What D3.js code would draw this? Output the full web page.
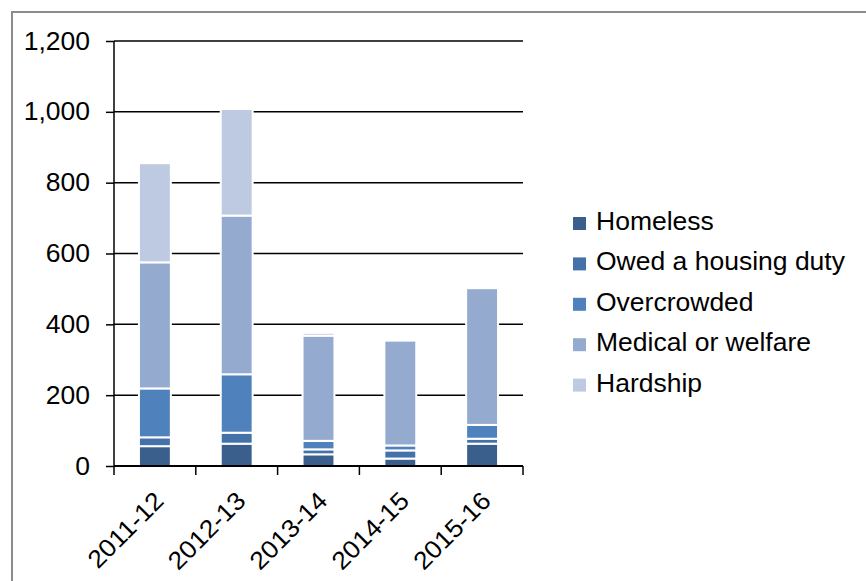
<!DOCTYPE html>
<html>
<head>
<meta charset="utf-8">
<script src="https://cdn.jsdelivr.net/npm/d3@7"></script>
<style>
  html, body { margin: 0; padding: 0; background: #fff; }
  svg { display: block; font-family: "Liberation Sans", Arial, sans-serif; }
</style>
</head>
<body>
<svg id="chart" width="866" height="581"></svg>
<script>
// Years and reason-for-priority series (stacked bottom to top)
const years = ["2011-12", "2012-13", "2013-14", "2014-15", "2015-16"];
const seriesNames = ["Homeless", "Owed a housing duty", "Overcrowded", "Medical or welfare", "Hardship"];
const homeless    = [56, 63, 33, 21, 63];
const owedDuty    = [25, 31, 14, 23, 14];
const overcrowded = [138, 165, 24, 14, 39];
const medical     = [356, 448, 297, 296, 386];
const hardship    = [280, 301, 8, 0, 0];
const yTicks = [0, 200, 400, 600, 800, 1000, 1200];
const colors = ["#3b5f8d", "#4571aa", "#4f81bd", "#94aacf", "#bdcae2"];

const seriesValues = [homeless, owedDuty, overcrowded, medical, hardship];
const rows = years.map((y, i) => {
  const r = { year: y };
  seriesNames.forEach((s, j) => { r[s] = seriesValues[j][i]; });
  return r;
});

const svg = d3.select("#chart");
const plot = { left: 114, right: 523, top: 41, bottom: 466 };

// slightly wide lettering
function widen(sel) {
  sel.each(function () {
    const w = this.getComputedTextLength();
    d3.select(this).attr("textLength", w * 1.06).attr("lengthAdjust", "spacingAndGlyphs");
  });
}

// outer frame
svg.append("path")
  .attr("d", `M12,${581 + 5} L12,12 L${866 + 5},12`)
  .attr("fill", "none")
  .attr("stroke", "#8c8c8c")
  .attr("stroke-width", 2);

const x = d3.scaleBand().domain(years).range([plot.left, plot.right]).paddingInner(0.61).paddingOuter(0.305);
const y = d3.scaleLinear().domain([0, 1200]).range([plot.bottom, plot.top]);

// horizontal gridlines
svg.append("g")
  .selectAll("line")
  .data(yTicks.filter(t => t > 0))
  .join("line")
  .attr("x1", plot.left).attr("x2", plot.right)
  .attr("y1", d => y(d)).attr("y2", d => y(d))
  .attr("stroke", "#000").attr("stroke-width", 1.5);

// stacked bars
const stack = d3.stack().keys(seriesNames)(rows);
svg.append("g")
  .selectAll("g")
  .data(stack)
  .join("g")
  .attr("fill", (d, i) => colors[i])
  .selectAll("rect")
  .data(d => d.filter(p => p[1] - p[0] > 0))
  .join("rect")
  .attr("x", d => x(d.data.year))
  .attr("width", x.bandwidth())
  .attr("y", d => y(d[1]))
  .attr("height", d => y(d[0]) - y(d[1]))
  .attr("stroke", "#fff")
  .attr("stroke-width", 2);

// y axis
const yAxis = d3.axisLeft(y).tickValues(yTicks).tickFormat(d3.format(",")).tickSize(8).tickPadding(16);
const gy = svg.append("g").attr("transform", `translate(${plot.left},0)`).call(yAxis);
gy.select(".domain").attr("stroke", "#000").attr("stroke-width", 1.5)
  .attr("d", `M0,${plot.top}V${plot.bottom + 9}`);
gy.selectAll(".tick line").attr("stroke", "#000").attr("stroke-width", 1.5);
gy.selectAll(".tick text").attr("font-size", 25).attr("fill", "#000")
  .attr("font-family", "Liberation Sans, Arial, sans-serif")
  .call(widen);

// x axis with ticks at category boundaries
svg.append("line")
  .attr("x1", plot.left).attr("x2", plot.right)
  .attr("y1", plot.bottom).attr("y2", plot.bottom)
  .attr("stroke", "#000").attr("stroke-width", 1.8);
const step = x.step();
svg.append("g").selectAll("line")
  .data(d3.range(1, years.length + 1))
  .join("line")
  .attr("x1", i => plot.left + i * step).attr("x2", i => plot.left + i * step)
  .attr("y1", plot.bottom).attr("y2", plot.bottom + 9)
  .attr("stroke", "#000").attr("stroke-width", 1.5);

// rotated category labels
svg.append("g").selectAll("text")
  .data(years)
  .join("text")
  .attr("transform", d => `translate(${x(d) + x.bandwidth() / 2 + 4},${plot.bottom + 30}) rotate(-45)`)
  .attr("text-anchor", "end")
  .attr("dominant-baseline", "central")
  .attr("font-size", 25)
  .attr("fill", "#000")
  .text(d => d)
  .call(widen);

// legend
const legend = svg.append("g").attr("transform", "translate(573,230)");
const item = legend.selectAll("g")
  .data(seriesNames)
  .join("g")
  .attr("transform", (d, i) => `translate(0,${i * 40.4})`);
item.append("rect")
  .attr("x", 0).attr("y", -13)
  .attr("width", 13).attr("height", 13)
  .attr("fill", (d, i) => colors[i]);
item.append("text")
  .attr("x", 23).attr("y", 0)
  .attr("font-size", 25)
  .attr("fill", "#000")
  .text(d => d)
  .call(widen);
</script>
</body>
</html>
